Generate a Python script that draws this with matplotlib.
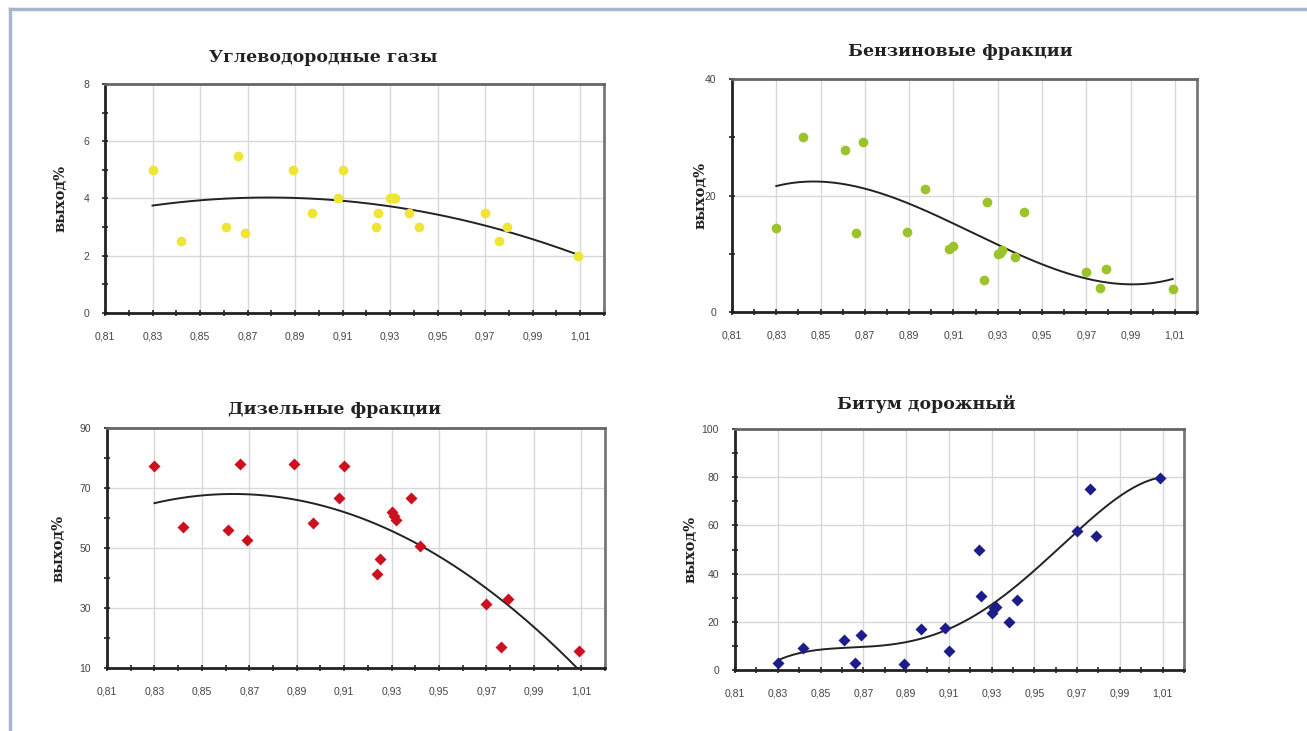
import numpy as np
import matplotlib.pyplot as plt
from matplotlib.ticker import FixedLocator, FuncFormatter
from matplotlib.lines import Line2D

# Density of crude samples (shared by all four panels)
density = [0.830, 0.842, 0.861, 0.866, 0.869, 0.889, 0.897, 0.908, 0.910, 0.924,
           0.925, 0.930, 0.931, 0.932, 0.938, 0.942, 0.970, 0.976, 0.979, 1.009]

# Yields, %
gas = [5.0, 2.5, 3.0, 5.5, 2.8, 5.0, 3.5, 4.0, 5.0, 3.0,
       3.5, 4.0, 4.0, 4.0, 3.5, 3.0, 3.5, 2.5, 3.0, 2.0]
gasoline = [14.5, 30.0, 27.8, 13.6, 29.1, 13.8, 21.1, 10.8, 11.3, 5.5,
            18.9, 9.9, 10.1, 10.6, 9.5, 17.2, 6.8, 4.2, 7.4, 4.0]
diesel = [77.4, 57.0, 55.9, 78.0, 52.8, 78.0, 58.3, 66.7, 77.4, 41.4,
          46.3, 61.9, 60.8, 59.4, 66.7, 50.6, 31.3, 16.9, 33.1, 15.8]
bitumen = [2.8, 9.3, 12.5, 2.8, 14.5, 2.5, 16.9, 17.6, 8.0, 49.9,
           30.5, 23.8, 25.6, 26.3, 20.0, 29.0, 57.5, 75.2, 55.7, 79.6]

titles = ['Углеводородные газы', 'Бензиновые фракции', 'Дизельные фракции', 'Битум дорожный']
x_major = [0.81, 0.83, 0.85, 0.87, 0.89, 0.91, 0.93, 0.95, 0.97, 0.99, 1.01]
ylims = [(0, 8), (0, 40), (10, 90), (0, 100)]
y_major = [[0, 2, 4, 6, 8], [0, 20, 40], [10, 30, 50, 70, 90], [0, 20, 40, 60, 80, 100]]
y_minor = [[1, 3, 5, 7], [10, 30], [20, 40, 60, 80], [10, 30, 50, 70, 90]]
trend_deg = [2, 3, 2, 4]

# pixel boxes (left, right, top, bottom) in a 1307x731 image
W, H = 1307, 731
boxes = [(105, 604, 84, 313), (732, 1197, 79, 312), (107, 605, 428, 668), (735, 1184, 429, 670)]
title_pos = [(323, 58), (960, 51), (335, 410), (926, 404)]
ylabel_x = [60, 700, 58, 690]

styles = [dict(marker='o', color='#eee534', ms=7),
          dict(marker='o', color='#9cc42a', ms=7),
          dict(marker='D', color='#cc1020', ms=6),
          dict(marker='D', color='#1c1c8a', ms=6)]

fig = plt.figure(figsize=(W / 100, H / 100), dpi=100)

# outer frame
fig.add_artist(Line2D([10 / W, 10 / W], [0, 1 - 9 / H], transform=fig.transFigure, color='#a9b5cc', lw=2.5))
fig.add_artist(Line2D([10 / W, 1], [1 - 9 / H, 1 - 9 / H], transform=fig.transFigure, color='#a9b5cc', lw=2.5))

comma = FuncFormatter(lambda v, p: f'{v:.2f}'.replace('.', ','))
series = [gas, gasoline, diesel, bitumen]

for i, y in enumerate(series):
    l, r, t, b = boxes[i]
    ax = fig.add_axes([l / W, 1 - b / H, (r - l) / W, (b - t) / H])
    ax.set_xlim(0.81, 1.02)
    ax.set_ylim(*ylims[i])

    # trend line (polynomial fit, like the spreadsheet trendline)
    p = np.polynomial.Polynomial.fit(density, y, trend_deg[i])
    xs = np.linspace(min(density), max(density), 200)
    ax.plot(xs, p(xs), color='#222222', lw=1.4, zorder=3)

    ax.plot(density, y, ls='none', mec='none', zorder=4, clip_on=False, **styles[i])

    ax.xaxis.set_major_locator(FixedLocator(x_major))
    ax.xaxis.set_minor_locator(FixedLocator([v + 0.01 for v in x_major]))
    ax.xaxis.set_major_formatter(comma)
    ax.yaxis.set_major_locator(FixedLocator(y_major[i]))
    ax.yaxis.set_minor_locator(FixedLocator(y_minor[i]))
    ax.tick_params(which='both', direction='inout', length=5, width=1.2, color='#222222',
                   labelsize=7.5, labelcolor='#444444')
    ax.tick_params(axis='x', pad=11)
    ax.tick_params(axis='y', pad=9)
    for lab in ax.get_xticklabels() + ax.get_yticklabels():
        lab.set_family('Liberation Sans')
    ax.grid(True, which='major', color='#d8d8d8', lw=1)
    ax.set_axisbelow(True)

    ax.spines['left'].set_color('#222222')
    ax.spines['bottom'].set_color('#222222')
    ax.spines['left'].set_linewidth(2)
    ax.spines['bottom'].set_linewidth(2)
    ax.spines['top'].set_color('#666666')
    ax.spines['right'].set_color('#777777')
    ax.spines['top'].set_linewidth(2)
    ax.spines['right'].set_linewidth(2)

    tx, ty = title_pos[i]
    fig.text(tx / W, 1 - ty / H, titles[i], ha='center', va='center',
             family='DejaVu Serif', weight='bold', fontsize=12.5, color='#222222')
    fig.text(ylabel_x[i] / W, 1 - ((t + b) / 2) / H, 'выход%', rotation=90, ha='center', va='center',
             family='DejaVu Serif', weight='bold', fontsize=10.5, color='#222222')

fig.savefig('out.png', dpi=100, facecolor='white')
